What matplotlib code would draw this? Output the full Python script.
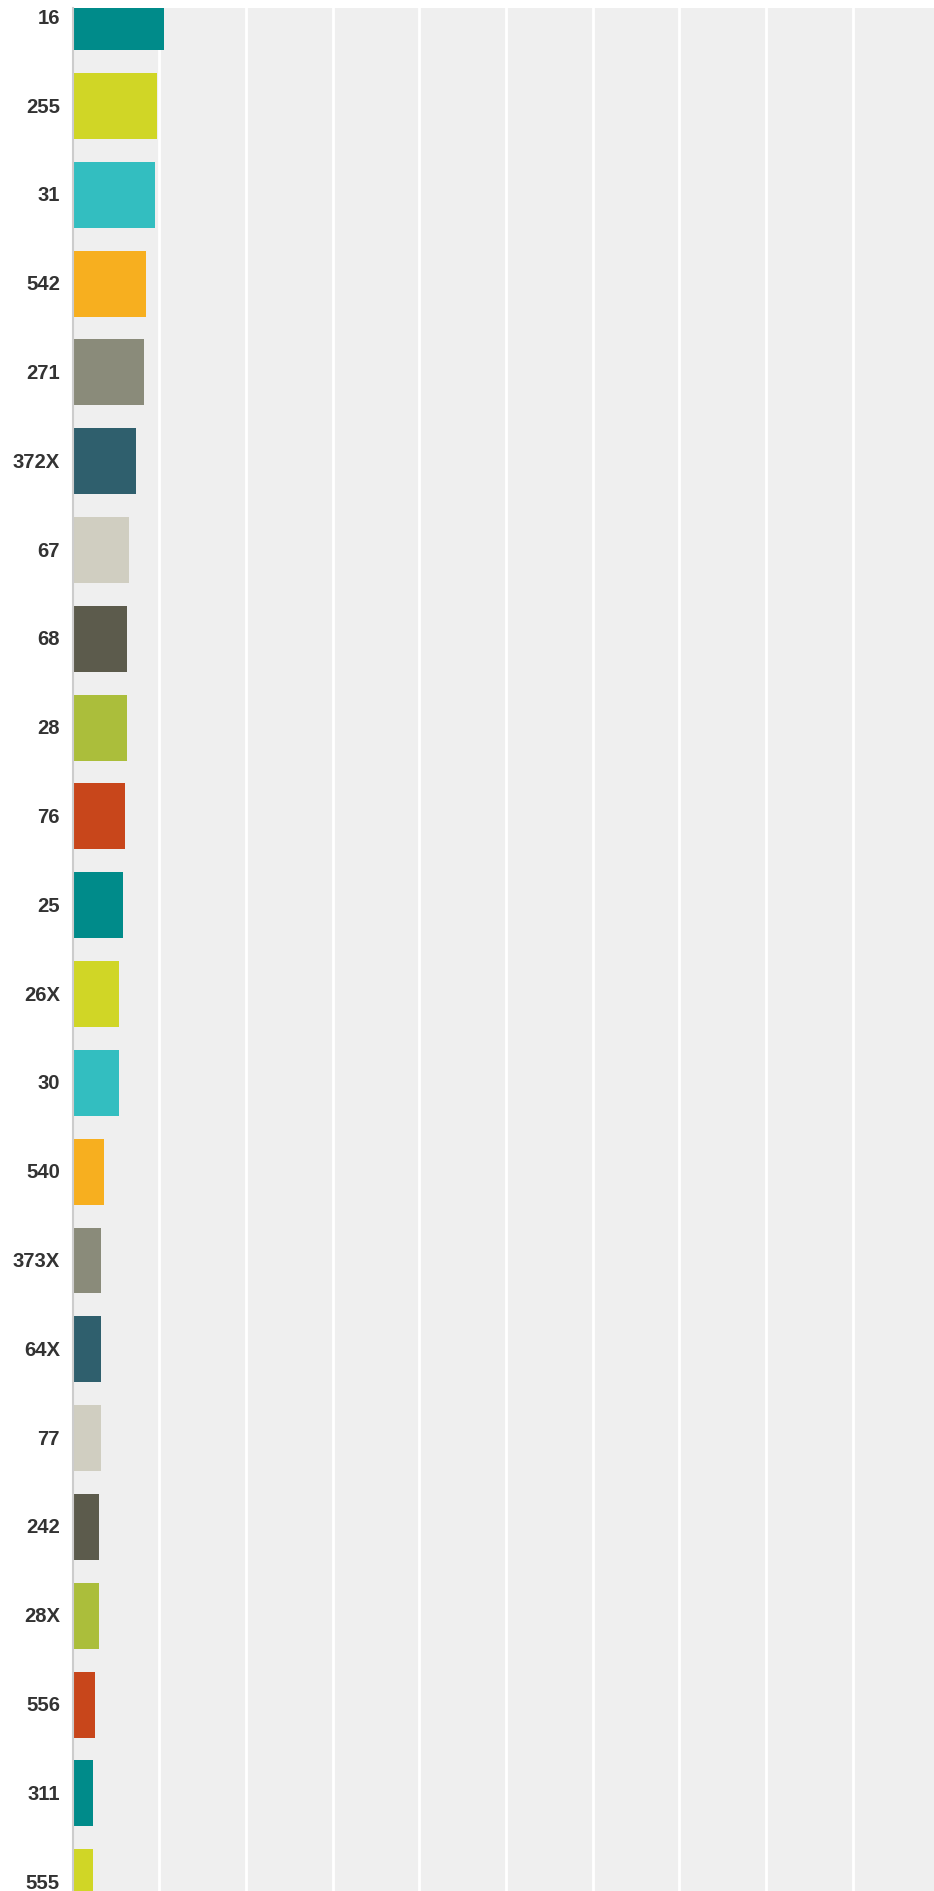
import matplotlib
matplotlib.use("Agg")
import matplotlib.pyplot as plt
import matplotlib.transforms as mtransforms

categories = ["16", "255", "31", "542", "271", "372X", "67", "68", "28", "76",
              "25", "26X", "30", "540", "373X", "64X", "77", "242", "28X", "556",
              "311", "555"]
values = [10.5, 9.69, 9.46, 8.42, 8.19, 7.38, 6.57, 6.34, 6.34, 6.11,
          5.88, 5.42, 5.42, 3.58, 3.34, 3.34, 3.23, 3.00, 3.00, 2.54,
          2.31, 2.31]
palette = ["#008B8A", "#D0D626", "#33BEC0", "#F7AF1F", "#8A8B7A",
           "#2F5F6D", "#D0CEC1", "#5C5B4C", "#ABBE3B", "#C8461B"]
colors = [palette[i % len(palette)] for i in range(len(categories))]

W, H = 934, 1891
fig = plt.figure(figsize=(W / 100, H / 100), dpi=100)
left = 72.5 / W
top = 1 - 8 / H
ax = fig.add_axes([left, 0, 1 - left, top])
ax.set_facecolor("#EFEFEF")

y = list(range(len(categories)))
ax.barh(y, values, height=0.743, color=colors, zorder=3)

ax.set_ylim(21.10, -0.104)
ax.set_xlim(0, (934 - 72.5) / 8.67)
ax.set_xticks([10, 20, 30, 40, 50, 60, 70, 80, 90])
ax.xaxis.grid(True, color="white", linewidth=2, zorder=1)
ax.tick_params(axis="x", length=0, labelbottom=False)
ax.set_yticks(y)
ax.set_yticklabels(categories, fontfamily="Liberation Sans", fontweight="bold",
                   fontsize=14.6, color="#333333")
ax.tick_params(axis="y", length=0, pad=9)
offset = mtransforms.ScaledTranslation(0, 1.0 / 100, fig.dpi_scale_trans)
for lbl in ax.get_yticklabels():
    lbl.set_transform(lbl.get_transform() + offset)

for s in ["top", "right", "bottom"]:
    ax.spines[s].set_visible(False)
ax.spines["left"].set_color("#CCCCCC")
ax.spines["left"].set_linewidth(1.5)
ax.spines["left"].set_zorder(4)

fig.savefig("out.png", dpi=100)
